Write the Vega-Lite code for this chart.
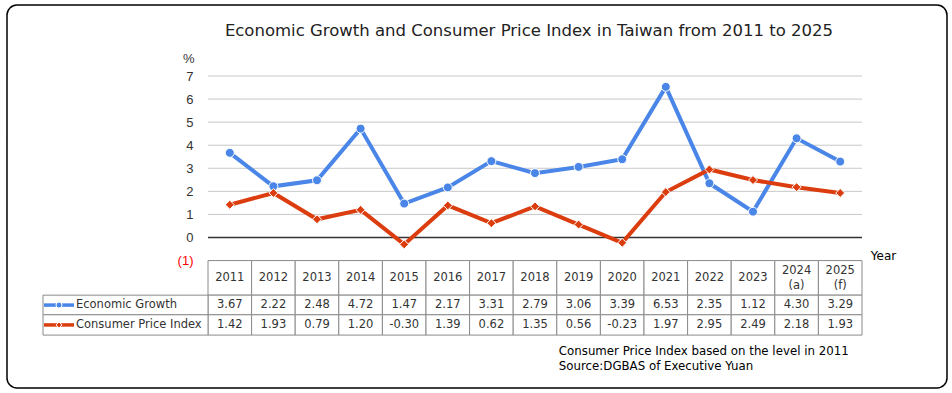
{
  "$schema": "https://vega.github.io/schema/vega-lite/v6.json",
  "width": 940,
  "height": 383,
  "autosize": {"type": "none"},
  "padding": {"left": 7, "top": 5, "right": 5, "bottom": 5},
  "background": "white",
  "title": {
    "text": "Economic Growth and Consumer Price Index in Taiwan from 2011 to 2025",
    "frame": "group", "anchor": "middle", "dx": 52, "offset": -47, "baseline": "alphabetic",
    "font": "DejaVu Sans", "fontSize": 16.5, "fontWeight": "normal", "color": "#222222"
  },
  "config": {
    "view": {"stroke": "black", "strokeWidth": 1.5, "cornerRadius": 10},
    "locale": {"number": {"decimal": ".", "thousands": ",", "grouping": [3], "currency": ["$", ""], "minus": "-"}},
    "text": {"font": "DejaVu Sans", "fontSize": 11.5, "color": "#333333"}
  },
  "data": {
    "values": [
      {"year": "2011", "sub": "", "eg": 3.67, "cpi": 1.42},
      {"year": "2012", "sub": "", "eg": 2.22, "cpi": 1.93},
      {"year": "2013", "sub": "", "eg": 2.48, "cpi": 0.79},
      {"year": "2014", "sub": "", "eg": 4.72, "cpi": 1.20},
      {"year": "2015", "sub": "", "eg": 1.47, "cpi": -0.30},
      {"year": "2016", "sub": "", "eg": 2.17, "cpi": 1.39},
      {"year": "2017", "sub": "", "eg": 3.31, "cpi": 0.62},
      {"year": "2018", "sub": "", "eg": 2.79, "cpi": 1.35},
      {"year": "2019", "sub": "", "eg": 3.06, "cpi": 0.56},
      {"year": "2020", "sub": "", "eg": 3.39, "cpi": -0.23},
      {"year": "2021", "sub": "", "eg": 6.53, "cpi": 1.97},
      {"year": "2022", "sub": "", "eg": 2.35, "cpi": 2.95},
      {"year": "2023", "sub": "", "eg": 1.12, "cpi": 2.49},
      {"year": "2024", "sub": "(a)", "eg": 4.30, "cpi": 2.18},
      {"year": "2025", "sub": "(f)", "eg": 3.29, "cpi": 1.93}
    ]
  },
  "layer": [
    {
      "data": {"values": [{"g": 1}, {"g": 2}, {"g": 3}, {"g": 4}, {"g": 5}, {"g": 6}, {"g": 7}]},
      "mark": {"type": "rule", "color": "#c8c8c8", "strokeWidth": 1},
      "encoding": {
        "x": {
          "datum": "2011", "type": "nominal", "bandPosition": 0,
          "scale": {
            "type": "band",
            "domain": ["2011","2012","2013","2014","2015","2016","2017","2018","2019","2020","2021","2022","2023","2024","2025"],
            "range": [201, 855],
            "paddingInner": 0, "paddingOuter": 0
          },
          "axis": {
            "orient": "top", "labels": false, "ticks": false, "domain": false, "grid": false,
            "title": "Year", "titleX": 876, "titleY": 254, "titleAlign": "center", "titleBaseline": "alphabetic",
            "titleFont": "DejaVu Sans", "titleFontSize": 12, "titleFontWeight": "normal", "titleColor": "black"
          }
        },
        "x2": {"datum": "2025", "bandPosition": 1},
        "y": {
          "field": "g", "type": "quantitative",
          "scale": {"domain": [-6.524, 10.078], "nice": false, "zero": false},
          "axis": {
            "values": [-1, 0, 1, 2, 3, 4, 5, 6, 7],
            "orient": "left", "offset": -201, "domain": false, "ticks": false, "tickSize": 0, "grid": false,
            "labelPadding": 15, "labelFont": "Liberation Sans", "labelFontSize": 13, "labelBaseline": "middle",
            "labelExpr": "datum.value < 0 ? '(' + abs(datum.value) + ')' : datum.label",
            "labelColor": {"condition": {"test": "datum.value < 0", "value": "#ff0000"}, "value": "#333333"},
            "title": "%", "titleAngle": 0, "titleAlign": "right", "titleBaseline": "middle",
            "titleX": -14, "titleY": 53, "titleFont": "Liberation Sans", "titleFontSize": 13,
            "titleFontWeight": "normal", "titleColor": "#333333"
          }
        }
      }
    },
    {
      "data": {"values": [{}]},
      "mark": {"type": "rule", "color": "#333333", "strokeWidth": 1.3},
      "encoding": {
        "x": {"datum": "2011", "type": "nominal", "bandPosition": 0},
        "x2": {"datum": "2025", "bandPosition": 1},
        "y": {"datum": 0, "type": "quantitative"}
      }
    },
    {
      "mark": {"type": "rect", "fill": "white", "stroke": "#8a8a8a", "strokeWidth": 1},
      "encoding": {
        "x": {"field": "year", "type": "nominal"},
        "y": {"datum": -1, "type": "quantitative"},
        "y2": {"datum": -2.5}
      }
    },
    {
      "mark": {"type": "rect", "fill": "white", "stroke": "#8a8a8a", "strokeWidth": 1},
      "encoding": {
        "x": {"field": "year", "type": "nominal"},
        "y": {"datum": -2.5, "type": "quantitative"},
        "y2": {"datum": -3.35}
      }
    },
    {
      "mark": {"type": "rect", "fill": "white", "stroke": "#8a8a8a", "strokeWidth": 1},
      "encoding": {
        "x": {"field": "year", "type": "nominal"},
        "y": {"datum": -3.35, "type": "quantitative"},
        "y2": {"datum": -4.23}
      }
    },
    {
      "data": {"values": [{}]},
      "mark": {"type": "rect", "fill": "white", "stroke": "#8a8a8a", "strokeWidth": 1, "xOffset": -165},
      "encoding": {
        "x": {"datum": "2011", "type": "nominal", "bandPosition": 0},
        "x2": {"datum": "2011", "bandPosition": 0},
        "y": {"datum": -2.5, "type": "quantitative"},
        "y2": {"datum": -3.35}
      }
    },
    {
      "data": {"values": [{}]},
      "mark": {"type": "rect", "fill": "white", "stroke": "#8a8a8a", "strokeWidth": 1, "xOffset": -165},
      "encoding": {
        "x": {"datum": "2011", "type": "nominal", "bandPosition": 0},
        "x2": {"datum": "2011", "bandPosition": 0},
        "y": {"datum": -3.35, "type": "quantitative"},
        "y2": {"datum": -4.23}
      }
    },
    {
      "transform": [{"filter": "datum.sub == ''"}],
      "mark": {"type": "text", "baseline": "middle"},
      "encoding": {
        "x": {"field": "year", "type": "nominal"},
        "y": {"datum": -1.755, "type": "quantitative"},
        "text": {"field": "year"}
      }
    },
    {
      "transform": [{"filter": "datum.sub != ''"}],
      "mark": {"type": "text", "baseline": "middle"},
      "encoding": {
        "x": {"field": "year", "type": "nominal"},
        "y": {"datum": -1.45, "type": "quantitative"},
        "text": {"field": "year"}
      }
    },
    {
      "transform": [{"filter": "datum.sub != ''"}],
      "mark": {"type": "text", "baseline": "middle"},
      "encoding": {
        "x": {"field": "year", "type": "nominal"},
        "y": {"datum": -2.12, "type": "quantitative"},
        "text": {"field": "sub"}
      }
    },
    {
      "mark": {"type": "text", "baseline": "middle"},
      "encoding": {
        "x": {"field": "year", "type": "nominal"},
        "y": {"datum": -2.93, "type": "quantitative"},
        "text": {"field": "eg", "type": "quantitative", "format": ".2f"}
      }
    },
    {
      "mark": {"type": "text", "baseline": "middle"},
      "encoding": {
        "x": {"field": "year", "type": "nominal"},
        "y": {"datum": -3.79, "type": "quantitative"},
        "text": {"field": "cpi", "type": "quantitative", "format": ".2f"}
      }
    },
    {
      "data": {"values": [{"name": "Economic Growth"}]},
      "mark": {"type": "text", "baseline": "middle", "align": "left", "dx": -132},
      "encoding": {
        "x": {"datum": "2011", "type": "nominal", "bandPosition": 0},
        "y": {"datum": -2.93, "type": "quantitative"},
        "text": {"field": "name"}
      }
    },
    {
      "data": {"values": [{"name": "Consumer Price Index"}]},
      "mark": {"type": "text", "baseline": "middle", "align": "left", "dx": -132},
      "encoding": {
        "x": {"datum": "2011", "type": "nominal", "bandPosition": 0},
        "y": {"datum": -3.79, "type": "quantitative"},
        "text": {"field": "name"}
      }
    },
    {
      "data": {"values": [{}]},
      "mark": {"type": "rule", "color": "#4a86e8", "strokeWidth": 3.5, "xOffset": -164, "x2Offset": -134},
      "encoding": {
        "x": {"datum": "2011", "type": "nominal", "bandPosition": 0},
        "x2": {"datum": "2011", "bandPosition": 0},
        "y": {"datum": -2.93, "type": "quantitative"}
      }
    },
    {
      "data": {"values": [{}]},
      "mark": {"type": "point", "shape": "circle", "filled": true, "opacity": 1, "color": "#4a86e8", "stroke": "white", "strokeWidth": 1, "size": 36, "xOffset": -149},
      "encoding": {
        "x": {"datum": "2011", "type": "nominal", "bandPosition": 0},
        "y": {"datum": -2.93, "type": "quantitative"}
      }
    },
    {
      "data": {"values": [{}]},
      "mark": {"type": "rule", "color": "#dc3d0f", "strokeWidth": 3.5, "xOffset": -164, "x2Offset": -134},
      "encoding": {
        "x": {"datum": "2011", "type": "nominal", "bandPosition": 0},
        "x2": {"datum": "2011", "bandPosition": 0},
        "y": {"datum": -3.79, "type": "quantitative"}
      }
    },
    {
      "data": {"values": [{}]},
      "mark": {"type": "point", "shape": "diamond", "filled": true, "opacity": 1, "color": "#dc3d0f", "stroke": "white", "strokeWidth": 1, "size": 36, "xOffset": -149},
      "encoding": {
        "x": {"datum": "2011", "type": "nominal", "bandPosition": 0},
        "y": {"datum": -3.79, "type": "quantitative"}
      }
    },
    {
      "mark": {"type": "line", "color": "#4a86e8", "strokeWidth": 4},
      "encoding": {
        "x": {"field": "year", "type": "nominal"},
        "y": {"field": "eg", "type": "quantitative"}
      }
    },
    {
      "mark": {"type": "point", "shape": "circle", "filled": true, "opacity": 1, "color": "#4a86e8", "stroke": "white", "strokeWidth": 1, "size": 80},
      "encoding": {
        "x": {"field": "year", "type": "nominal"},
        "y": {"field": "eg", "type": "quantitative"}
      }
    },
    {
      "mark": {"type": "line", "color": "#dc3d0f", "strokeWidth": 4},
      "encoding": {
        "x": {"field": "year", "type": "nominal"},
        "y": {"field": "cpi", "type": "quantitative"}
      }
    },
    {
      "mark": {"type": "point", "shape": "diamond", "filled": true, "opacity": 1, "color": "#dc3d0f", "stroke": "white", "strokeWidth": 1, "size": 80},
      "encoding": {
        "x": {"field": "year", "type": "nominal"},
        "y": {"field": "cpi", "type": "quantitative"}
      }
    },
    {
      "data": {"values": [{"note": "Consumer Price Index based on the level in 2011\nSource:DGBAS of Executive Yuan"}]},
      "mark": {"type": "text", "align": "left", "baseline": "alphabetic", "lineBreak": "\n", "lineHeight": 15, "dx": 2, "color": "black", "fontSize": 11.8},
      "encoding": {
        "x": {"datum": "2019", "type": "nominal", "bandPosition": 0},
        "y": {"datum": -5.1, "type": "quantitative"},
        "text": {"field": "note"}
      }
    }
  ]
}
